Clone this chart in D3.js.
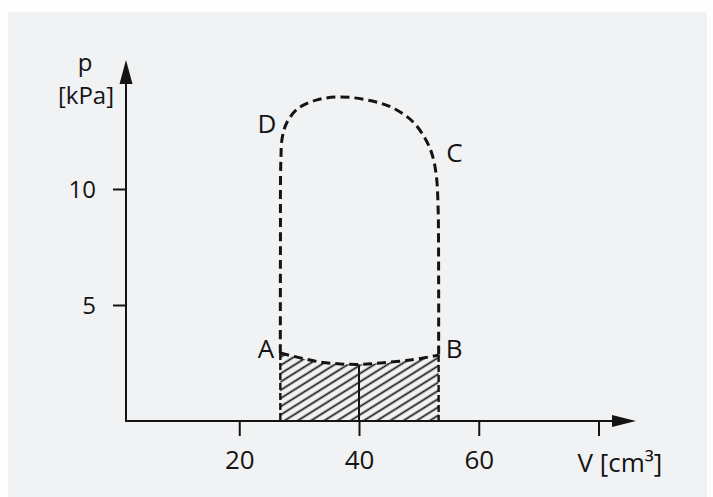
<!DOCTYPE html>
<html>
<head>
<meta charset="utf-8">
<script src="https://cdn.jsdelivr.net/npm/d3@7"></script>
<style>
  html, body { margin: 0; padding: 0; background: #fdfdfd; }
  svg { display: block; }
  text { font-family: "Open Sans", "Noto Sans", sans-serif; fill: #141414; }
</style>
</head>
<body>
<svg id="chart" width="713" height="497"></svg>
<script>
// ---- data ----
const vTicks = [20, 40, 60, 80];
const vTickLabels = ["20", "40", "60", ""];
const pTicks = [5, 10];
const pTickLabels = ["5", "10"];

// closed cycle A -> D -> C -> B (upper dashed branch)
const loopV = [26.86, 26.88, 26.95, 27.2, 28.0, 29.9, 33.0, 36.9, 42.4, 46.0, 49.0, 51.0, 52.2, 52.9, 53.2, 53.3, 53.3];
const loopP = [2.93, 7.4, 11.25, 12.24, 12.89, 13.49, 13.84, 13.97, 13.78, 13.45, 12.9, 12.2, 11.5, 10.6, 9.3, 6.1, 2.84];

// lower branch A -> B
const abV = [26.86, 30.2, 33.6, 36.9, 40.1, 43.6, 48.6, 53.3];
const abP = [2.93, 2.72, 2.54, 2.46, 2.44, 2.5, 2.63, 2.84];

const pointNames = ["A", "B", "C", "D"];
const dividerV = 40;

const xLabel = "V [cm³]";
const yLabel1 = "p";
const yLabel2 = "[kPa]";

// ---- layout ----
const W = 713, H = 497;
const svg = d3.select("#chart");

// paper background
svg.append("rect").attr("x", 0).attr("y", 0).attr("width", W).attr("height", H).attr("fill", "#fdfdfd");
svg.append("rect").attr("x", 8).attr("y", 12).attr("width", 699).attr("height", H - 12).attr("fill", "#f1f2f3");

const x = d3.scaleLinear().domain([0, 80]).range([119.5, 598.5]);
const y = d3.scaleLinear().domain([0, 15]).range([421, 421 - 15 * 23.2]);

const axisX0 = 126;     // position of the vertical axis
const axisY0 = y(0);    // position of the horizontal axis
const ink = "#141414";

// hatch pattern
const defs = svg.append("defs");
const pat = defs.append("pattern")
  .attr("id", "hatch")
  .attr("patternUnits", "userSpaceOnUse")
  .attr("width", 7).attr("height", 7)
  .attr("patternTransform", "rotate(-32)");
pat.append("line").attr("x1", -1).attr("y1", 3.5).attr("x2", 8).attr("y2", 3.5)
  .attr("stroke", ink).attr("stroke-width", 1.7);

const abData = abV.map((v, i) => ({ v, p: abP[i] }));
const loopData = loopV.map((v, i) => ({ v, p: loopP[i] }));

// hatched area under A-B
const area = d3.area()
  .x(d => x(d.v)).y0(axisY0).y1(d => y(d.p))
  .curve(d3.curveCatmullRom);
svg.append("path").datum(abData).attr("d", area).attr("fill", "url(#hatch)");

// vertical boundaries of the hatched area
const first = abData[0], last = abData[abData.length - 1];
[first, last].forEach(d => {
  svg.append("line")
    .attr("x1", x(d.v)).attr("x2", x(d.v))
    .attr("y1", y(d.p)).attr("y2", axisY0)
    .attr("stroke", ink).attr("stroke-width", 2.4)
    .attr("stroke-dasharray", "7,3");
});

// solid divider at V = 40
const pAt40 = d3.scaleLinear().domain(abV).range(abP)(dividerV);
svg.append("line")
  .attr("x1", x(dividerV)).attr("x2", x(dividerV))
  .attr("y1", y(pAt40)).attr("y2", axisY0)
  .attr("stroke", ink).attr("stroke-width", 2);

// dashed cycle
const line = d3.line().x(d => x(d.v)).y(d => y(d.p)).curve(d3.curveCatmullRom);
svg.append("path").datum(loopData).attr("d", line)
  .attr("fill", "none").attr("stroke", ink).attr("stroke-width", 3)
  .attr("stroke-dasharray", "9,5");
svg.append("path").datum(abData).attr("d", line)
  .attr("fill", "none").attr("stroke", ink).attr("stroke-width", 3)
  .attr("stroke-dasharray", "9,5");

// ---- axes ----
const gx = svg.append("g").attr("transform", `translate(0,${axisY0})`)
  .call(d3.axisBottom(x).tickValues(vTicks).tickFormat((d, i) => vTickLabels[i]).tickSize(15).tickPadding(33));
gx.select(".domain").remove();
gx.selectAll(".tick line").attr("stroke", ink).attr("stroke-width", 2);
gx.selectAll(".tick text").attr("font-size", 26).attr("dy", 0).attr("font-family", null).attr("fill", null);

const gy = svg.append("g").attr("transform", `translate(${axisX0},0)`)
  .call(d3.axisLeft(y).tickValues(pTicks).tickFormat((d, i) => pTickLabels[i]).tickSize(13).tickPadding(17));
gy.select(".domain").remove();
gy.selectAll(".tick line").attr("stroke", ink).attr("stroke-width", 2);
gy.selectAll(".tick text").attr("font-size", 24).attr("dy", "0.35em").attr("font-family", null).attr("fill", null);

// axis lines with arrows
svg.append("line").attr("x1", axisX0).attr("x2", axisX0).attr("y1", axisY0 + 1).attr("y2", 80)
  .attr("stroke", ink).attr("stroke-width", 2);
svg.append("path").attr("d", `M${axisX0},60 L${axisX0 - 6.5},84 L${axisX0 + 6.5},84 Z`).attr("fill", ink);

svg.append("line").attr("x1", axisX0 - 1).attr("x2", 616).attr("y1", axisY0).attr("y2", axisY0)
  .attr("stroke", ink).attr("stroke-width", 2);
svg.append("path").attr("d", `M636,${axisY0} L612,${axisY0 - 6} L612,${axisY0 + 6} Z`).attr("fill", ink);

// axis titles
svg.append("text").attr("x", x(80) - 21).attr("y", 472).attr("font-size", 26).text(xLabel);
svg.append("text").attr("x", 85).attr("y", 71).attr("font-size", 24).attr("text-anchor", "middle").text(yLabel1);
svg.append("text").attr("x", 86).attr("y", 104).attr("font-size", 24).attr("text-anchor", "middle").text(yLabel2);

// point labels
const lblA = first, lblB = last, lblC = loopData[13], lblD = loopData[3];
const labelPos = {
  A: { x: x(lblA.v) - 6, y: y(lblA.p) + 5, anchor: "end" },
  B: { x: x(lblB.v) + 7, y: y(lblB.p) + 3, anchor: "start" },
  C: { x: x(lblC.v) + 10, y: y(lblC.p) - 13, anchor: "start" },
  D: { x: x(lblD.v) - 6, y: y(lblD.p) - 4, anchor: "end" }
};
pointNames.forEach(n => {
  svg.append("text").attr("x", labelPos[n].x).attr("y", labelPos[n].y)
    .attr("font-size", 26).attr("text-anchor", labelPos[n].anchor).text(n);
});
</script>
</body>
</html>
